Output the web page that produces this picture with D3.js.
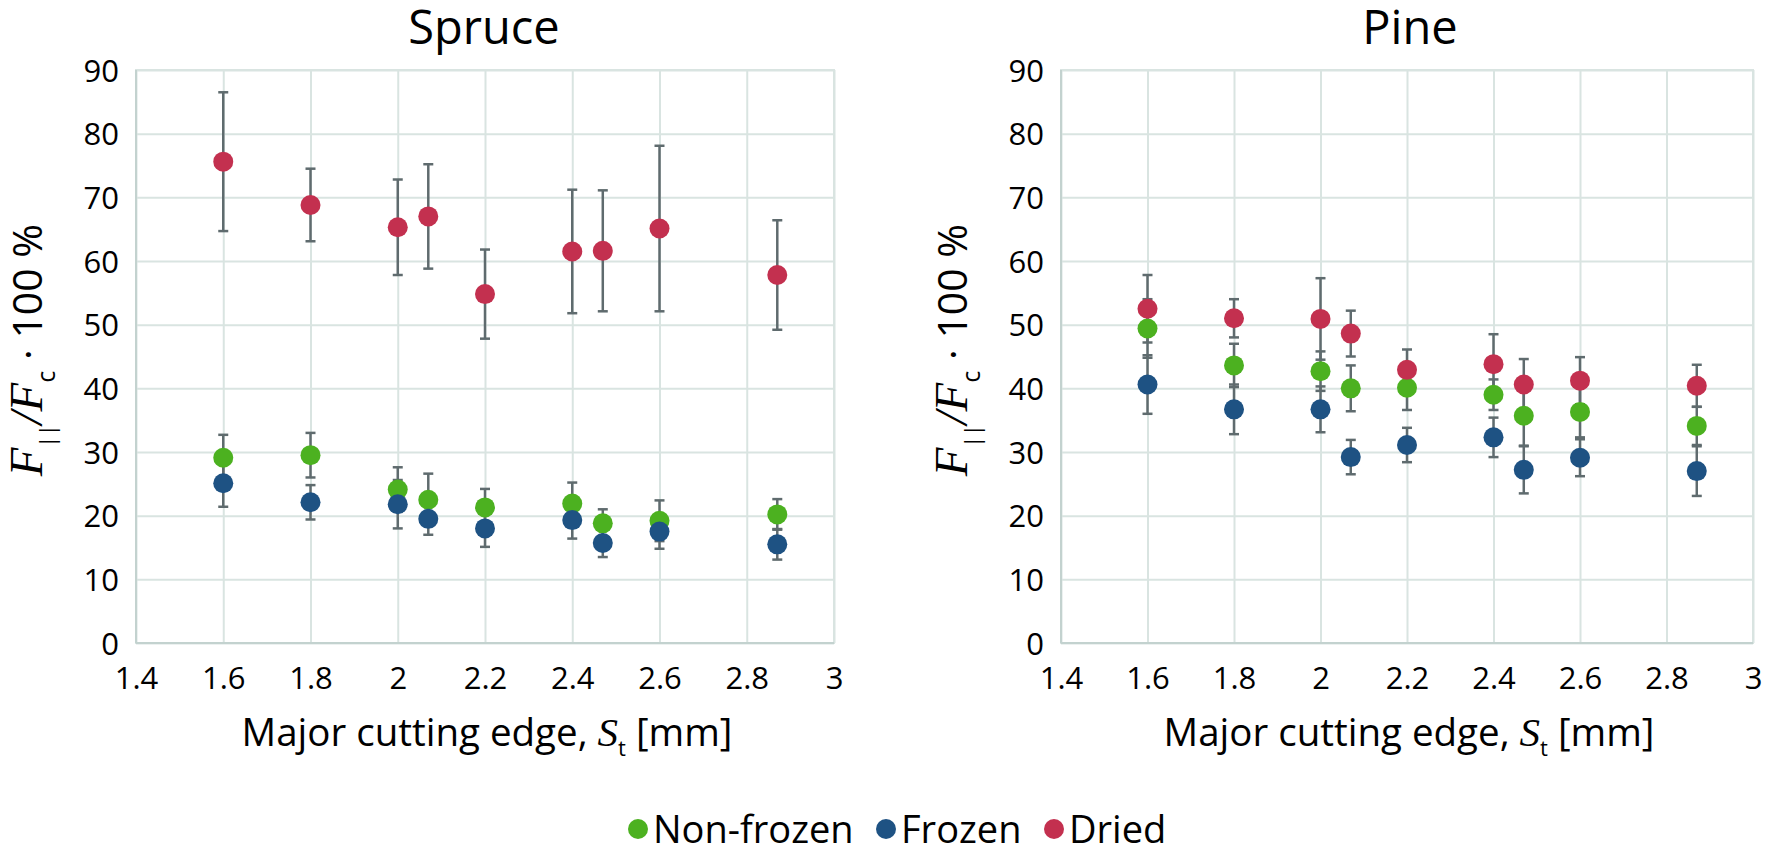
<!DOCTYPE html>
<meta charset="utf-8">
<style>
  body { margin: 0; background: #fff; }
  svg { display: block; }
  .tick text { font-family: "Open Sans", sans-serif; font-size: 31px; fill: #000; }
  .grid line { stroke: #d9e4e1; stroke-width: 2px; }
  .grid .domain { display: none; }
  .frame { fill: none; stroke: #d9e4e1; stroke-width: 2px; }
  .axisline { stroke: #c3d2cf; stroke-width: 2px; }
  .err { stroke: #5f6b6e; stroke-width: 2.5px; fill: none; }
  .label { font-family: "Open Sans", sans-serif; fill: #000; }
</style>
<body>
<div id="chart"></div>
<script src="https://cdn.jsdelivr.net/npm/d3@7"></script>
<script>
// major cutting edge S_t [mm]
var xValues = [1.6, 1.8, 2.0, 2.07, 2.2, 2.4, 2.47, 2.6, 2.87];
var xTicks = [1.4, 1.6, 1.8, 2, 2.2, 2.4, 2.6, 2.8, 3];
var yTicks = [0, 10, 20, 30, 40, 50, 60, 70, 80, 90];

var seriesNames = ["Non-frozen", "Frozen", "Dried"];
var seriesColors = ["#4cb120", "#1e5283", "#c3304f"];

// Spruce
var spruceNonFrozen    = [29.1, 29.5, 24.1, 22.5, 21.3, 21.9, 18.8, 19.2, 20.2];
var spruceNonFrozenErr = [3.6, 3.5, 3.5, 4.1, 2.9, 3.3, 2.2, 3.2, 2.4];
var spruceFrozen       = [25.1, 22.1, 21.8, 19.5, 18.0, 19.3, 15.7, 17.5, 15.5];
var spruceFrozenErr    = [3.7, 2.7, 3.8, 2.5, 2.9, 2.9, 2.2, 2.7, 2.4];
var spruceDried        = [75.6, 68.8, 65.3, 67.0, 54.8, 61.5, 61.6, 65.1, 57.8];
var spruceDriedErr     = [10.9, 5.7, 7.5, 8.2, 7.0, 9.7, 9.5, 13.0, 8.6];

// Pine
var pineNonFrozen    = [49.4, 43.6, 42.7, 40.0, 40.1, 39.0, 35.7, 36.3, 34.1];
var pineNonFrozenErr = [4.6, 3.4, 3.1, 3.6, 3.5, 2.4, 4.7, 4.0, 3.0];
var pineFrozen       = [40.6, 36.7, 36.7, 29.2, 31.1, 32.3, 27.2, 29.1, 27.0];
var pineFrozenErr    = [4.6, 3.9, 3.6, 2.7, 2.7, 3.1, 3.7, 2.9, 3.9];
var pineDried        = [52.5, 51.0, 50.9, 48.6, 42.9, 43.8, 40.6, 41.2, 40.4];
var pineDriedErr     = [5.3, 3.0, 6.4, 3.6, 3.2, 4.7, 4.0, 3.7, 3.3];

var width = 1773, height = 853;

var svg = d3.select("#chart").append("svg")
    .attr("width", width)
    .attr("height", height);

var panels = [
  { title: "Spruce", left: 136, right: 834, titleX: 484,
    values: [spruceNonFrozen, spruceFrozen, spruceDried],
    errors: [spruceNonFrozenErr, spruceFrozenErr, spruceDriedErr] },
  { title: "Pine", left: 1061, right: 1753, titleX: 1410,
    values: [pineNonFrozen, pineFrozen, pineDried],
    errors: [pineNonFrozenErr, pineFrozenErr, pineDriedErr] }
];

var plotTop = 70, plotBottom = 643;

panels.forEach(function (p) {
  var x = d3.scaleLinear().domain([1.4, 3]).range([p.left, p.right]);
  var y = d3.scaleLinear().domain([0, 90]).range([plotBottom, plotTop]);
  var g = svg.append("g");

  // vertical gridlines + x tick labels
  g.append("g")
      .attr("class", "grid")
      .attr("transform", "translate(0," + plotBottom + ")")
      .call(d3.axisBottom(x).tickValues(xTicks).tickSize(-(plotBottom - plotTop)).tickPadding(24)
        .tickFormat(function (d) { return String(+d.toFixed(1)); }));

  // horizontal gridlines + y tick labels
  var gy = g.append("g")
      .attr("class", "grid")
      .attr("transform", "translate(" + p.left + ",0)")
      .call(d3.axisLeft(y).tickValues(yTicks).tickSize(-(p.right - p.left)).tickPadding(17));
  gy.selectAll(".tick text").attr("dy", "0.36em");

  g.append("rect").attr("class", "frame")
      .attr("x", p.left).attr("y", plotTop)
      .attr("width", p.right - p.left).attr("height", plotBottom - plotTop);
  g.append("line").attr("class", "axisline")
      .attr("x1", p.left).attr("x2", p.left).attr("y1", plotTop).attr("y2", plotBottom);
  g.append("line").attr("class", "axisline")
      .attr("x1", p.left).attr("x2", p.right).attr("y1", plotBottom).attr("y2", plotBottom);

  // error bars first, markers on top
  p.values.forEach(function (vals, s) {
    var errs = p.errors[s];
    var eg = g.append("g").selectAll("g")
        .data(vals.map(function (v, i) { return { x: xValues[i], v: v, e: errs[i] }; }))
        .enter().append("g");
    eg.append("line").attr("class", "err")
        .attr("x1", function (d) { return x(d.x); })
        .attr("x2", function (d) { return x(d.x); })
        .attr("y1", function (d) { return y(d.v - d.e); })
        .attr("y2", function (d) { return y(d.v + d.e); });
    [-1, 1].forEach(function (sign) {
      eg.append("line").attr("class", "err")
          .attr("x1", function (d) { return x(d.x) - 5; })
          .attr("x2", function (d) { return x(d.x) + 5; })
          .attr("y1", function (d) { return y(d.v + sign * d.e); })
          .attr("y2", function (d) { return y(d.v + sign * d.e); });
    });
  });
  p.values.forEach(function (vals, s) {
    g.append("g").selectAll("circle")
        .data(vals)
        .enter().append("circle")
        .attr("cx", function (d, i) { return x(xValues[i]); })
        .attr("cy", function (d) { return y(d); })
        .attr("r", 10)
        .attr("fill", seriesColors[s]);
  });

  // title
  g.append("text").attr("class", "label")
      .attr("x", p.titleX).attr("y", 44)
      .attr("text-anchor", "middle")
      .style("font-size", "47px")
      .text(p.title);

  // x axis title
  var xt = g.append("text").attr("class", "label")
      .attr("x", (p.left + p.right) / 2 + 2).attr("y", 746)
      .attr("text-anchor", "middle")
      .style("font-size", "38.5px");
  xt.append("tspan").text("Major cutting edge, ");
  xt.append("tspan").style("font-family", "'Liberation Serif', serif").style("font-style", "italic")
      .style("font-size", "41px").text("S");
  xt.append("tspan").attr("dy", 10).style("font-size", "22px").text("t");
  xt.append("tspan").attr("dy", -10).text(" [mm]");

  // y axis title
  var yt = g.append("text").attr("class", "label")
      .attr("transform", "translate(" + (p.left - 94) + ",350) rotate(-90)")
      .attr("text-anchor", "middle")
      .style("font-size", "41px");
  yt.append("tspan").style("font-family", "'Liberation Serif', serif").style("font-style", "italic")
      .style("font-size", "47px").text("F");
  yt.append("tspan").attr("dy", 13).style("font-size", "21px").text("||");
  yt.append("tspan").attr("dy", -13).style("font-family", "'Liberation Serif', serif").style("font-style", "italic")
      .style("font-size", "47px").text("/F");
  yt.append("tspan").attr("dy", 13).style("font-size", "25px").text("c");
  yt.append("tspan").attr("dy", -13).text(" · 100 %");
});

// legend
var legendX = [638, 886, 1054];
var legend = svg.append("g").selectAll("g")
    .data(seriesNames)
    .enter().append("g")
    .attr("transform", function (d, i) { return "translate(" + legendX[i] + ",829)"; });
legend.append("circle").attr("r", 10).attr("fill", function (d, i) { return seriesColors[i]; });
legend.append("text").attr("class", "label")
    .attr("x", 15).attr("dy", "0.36em")
    .style("font-size", "38px")
    .text(function (d) { return d; });
</script>
</body>
